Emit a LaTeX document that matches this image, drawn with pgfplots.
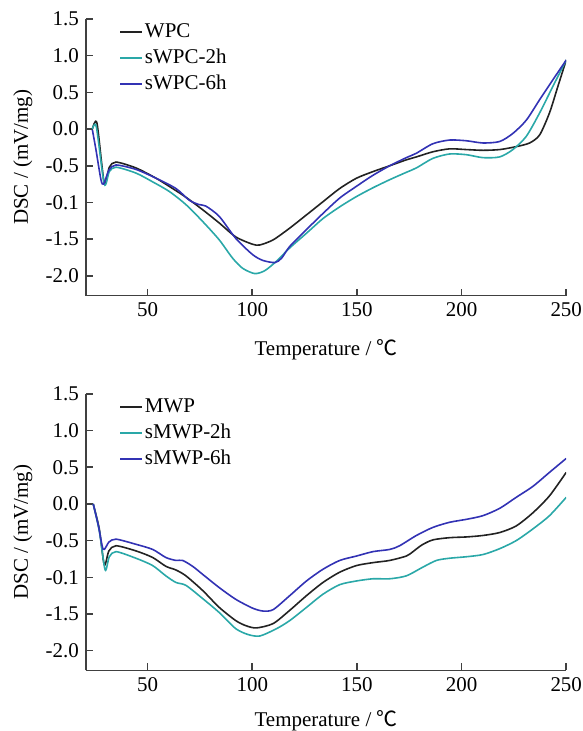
\documentclass[border=0pt]{standalone}
\usepackage{fontspec}
\setmainfont{Liberation Serif}
\newfontfamily\cjk{Noto Sans CJK SC}
\usepackage{pgfplots}
\pgfplotsset{compat=1.18}

\definecolor{dscblack}{HTML}{222222}
\definecolor{dscteal}{HTML}{2AA8A8}
\definecolor{dscblue}{HTML}{3232B4}

\pgfplotsset{
  dscpanel/.style={
    scale only axis,
    width=240.5pt, height=138.5pt,
    xmin=20.5, xmax=250,
    ymin=-2.27, ymax=1.5,
    axis lines*=left,
    axis line style={draw=black!75, line width=0.8pt},
    tick style={draw=black!75, line width=0.8pt},
    major tick length=3.5pt,
    tick align=inside,
    xtick={50,100,150,200,250},
    ytick={-2,-1.5,-1,-0.5,0,0.5,1,1.5},
    yticklabels={-2.0,-1.5,-0.1,-0.5,0.0,0.5,1.0,1.5},
    /pgf/number format/assume math mode=true,
    tick label style={font=\fontsize{10.5}{12}\selectfont},
    label style={font=\fontsize{10.5}{12}\selectfont},
    xlabel={Temperature / {\cjk ℃}},
    ylabel={DSC / (mV/mg)},
    xlabel style={at={(axis description cs:0.5,0)}, anchor=center, yshift=-27pt},
    ylabel style={at={(axis description cs:-0.131,0.5)}, anchor=center},
    legend style={at={(axis description cs:0.069,0.995)}, anchor=north west,
      draw=none, fill=none, inner sep=0pt, row sep=1.5pt,
      font=\fontsize{10.5}{12}\selectfont,
      nodes={inner sep=1pt, text height=7.5pt, text depth=2pt}},
    legend cell align=left,
    legend image code/.code={\draw[##1] (0pt,0pt) -- (11pt,0pt);},
  },
  dscline/.style={line width=0.8pt, smooth, tension=0.45},
}

\begin{document}
\begin{tikzpicture}
\useasboundingbox (-43pt,-218pt) rectangle (248.5pt,148pt);

% upper panel: WPC series
\begin{axis}[dscpanel]
\addplot[dscline, dscblack] coordinates {
(23.6,0.00) (25.8,0.08) (29.3,-0.74) (31.7,-0.52) (34.9,-0.45) (44.4,-0.53)
(54.0,-0.67) (61.9,-0.81) (68.3,-0.93) (76.3,-1.10) (84.2,-1.28) (92.1,-1.47)
(100.1,-1.57) (103.6,-1.58) (110.0,-1.51) (117.9,-1.35) (125.9,-1.17) (133.8,-0.99)
(141.8,-0.81) (149.8,-0.67) (157.7,-0.58) (165.7,-0.50) (173.6,-0.42) (178.4,-0.38)
(186.3,-0.31) (194.3,-0.27) (202.3,-0.28) (210.2,-0.29) (218.2,-0.28) (226.1,-0.24)
(232.5,-0.19) (237.3,-0.08) (242.0,0.22) (246.0,0.58) (250.0,0.94)};
\addplot[dscline, dscteal] coordinates {
(23.6,0.00) (25.5,0.03) (29.3,-0.75) (31.7,-0.58) (34.9,-0.52) (44.4,-0.60)
(52.4,-0.72) (60.3,-0.85) (68.3,-1.03) (76.3,-1.26) (84.2,-1.51) (90.6,-1.76)
(95.5,-1.90) (101.2,-1.97) (106.0,-1.93) (111.6,-1.80) (117.9,-1.62) (125.9,-1.42)
(133.8,-1.22) (141.8,-1.06) (149.8,-0.92) (157.7,-0.80) (165.7,-0.69) (173.6,-0.59)
(178.4,-0.53) (186.3,-0.40) (194.3,-0.34) (202.3,-0.35) (210.2,-0.39) (218.2,-0.38)
(224.5,-0.28) (230.9,-0.10) (237.3,0.22) (243.6,0.58) (250.0,0.94)};
\addplot[dscline, dscblue] coordinates {
(23.6,-0.01) (25.3,-0.28) (27.7,-0.69) (29.0,-0.75) (31.5,-0.56) (34.9,-0.49)
(44.4,-0.55) (54.0,-0.67) (63.5,-0.81) (69.9,-0.97) (74.6,-1.03) (77.8,-1.05)
(84.2,-1.19) (92.1,-1.49) (100.1,-1.71) (105.0,-1.79) (110.8,-1.82) (114.0,-1.76)
(117.9,-1.60) (125.9,-1.37) (133.8,-1.15) (141.8,-0.94) (149.8,-0.78) (157.7,-0.63)
(165.7,-0.50) (173.6,-0.39) (178.4,-0.33) (186.3,-0.20) (194.3,-0.15) (202.3,-0.16)
(210.2,-0.19) (218.2,-0.17) (224.5,-0.06) (230.9,0.12) (237.3,0.40) (243.6,0.67)
(250.0,0.94)};
\legend{WPC, sWPC-2h, sWPC-6h}
\end{axis}

% lower panel: MWP series
\begin{axis}[dscpanel, at={(0pt,-187.7pt)}, xlabel style={yshift=2pt}]
\addplot[dscline, dscblack] coordinates {
(24.0,0.00) (26.9,-0.34) (29.3,-0.83) (31.5,-0.64) (34.9,-0.57) (44.4,-0.64)
(52.4,-0.73) (58.7,-0.85) (63.5,-0.90) (68.3,-0.98) (76.3,-1.18) (84.2,-1.41)
(92.1,-1.59) (97.0,-1.66) (102.0,-1.69) (110.0,-1.63) (117.9,-1.45) (125.9,-1.25)
(133.8,-1.07) (141.8,-0.93) (149.8,-0.84) (157.7,-0.80) (165.7,-0.77) (173.6,-0.71)
(176.8,-0.65) (181.0,-0.56) (186.3,-0.49) (194.3,-0.46) (202.3,-0.45) (210.2,-0.43)
(218.2,-0.39) (226.1,-0.30) (234.1,-0.12) (242.0,0.11) (250.0,0.43)};
\addplot[dscline, dscteal] coordinates {
(24.0,0.00) (27.0,-0.38) (29.7,-0.90) (31.7,-0.72) (34.9,-0.65) (44.4,-0.74)
(52.4,-0.84) (58.7,-0.98) (63.5,-1.07) (68.3,-1.11) (76.3,-1.29) (84.2,-1.48)
(92.1,-1.70) (98.0,-1.78) (103.6,-1.80) (111.6,-1.70) (117.9,-1.59) (125.9,-1.41)
(133.8,-1.23) (141.8,-1.10) (149.8,-1.05) (157.7,-1.02) (165.7,-1.02) (173.6,-0.98)
(181.6,-0.86) (188.0,-0.77) (194.3,-0.74) (202.3,-0.72) (210.2,-0.69) (218.2,-0.61)
(226.1,-0.50) (234.1,-0.34) (242.0,-0.16) (250.0,0.09)};
\addplot[dscline, dscblue] coordinates {
(24.0,0.00) (26.5,-0.30) (28.8,-0.62) (31.5,-0.52) (34.9,-0.48) (44.4,-0.55)
(52.4,-0.62) (58.7,-0.73) (63.5,-0.77) (66.7,-0.77) (71.5,-0.85) (76.3,-0.96)
(84.2,-1.14) (92.1,-1.30) (100.1,-1.42) (105.2,-1.46) (110.0,-1.44) (117.9,-1.25)
(125.9,-1.05) (133.8,-0.89) (141.8,-0.77) (149.8,-0.71) (157.7,-0.65) (165.7,-0.62)
(170.4,-0.57) (178.4,-0.43) (186.3,-0.32) (194.3,-0.25) (202.3,-0.21) (210.2,-0.16)
(218.2,-0.06) (226.1,0.09) (234.1,0.24) (242.0,0.43) (250.0,0.62)};
\legend{MWP, sMWP-2h, sMWP-6h}
\end{axis}
\end{tikzpicture}
\end{document}
